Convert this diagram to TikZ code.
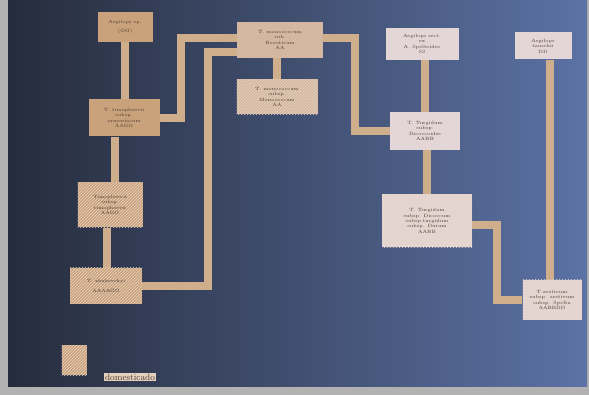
\documentclass[tikz,border=0pt]{standalone}
\usetikzlibrary{patterns}
\pgfdeclarelayer{background}
\pgfsetlayers{background,main}
\definecolor{boxtan}{HTML}{C9A27C}
\definecolor{boxpale}{HTML}{E4D6D6}
\definecolor{linktan}{HTML}{CFAE8C}
\definecolor{inkbrown}{HTML}{4A3A30}
\tikzset{
  taxon/.style={draw=none,fill=boxtan,align=center,text=inkbrown,inner sep=1pt,
    font=\fontsize{4.6}{5.4}\selectfont},
  domest/.style={postaction={pattern=north east lines,pattern color=white!55!boxtan}},
  link/.style={draw=linktan,line width=8pt,line join=miter}
}
\begin{document}
\begin{tikzpicture}[x=1pt,y=-1pt]
        \useasboundingbox (0,0) rectangle (589,395);

        \node [taxon, minimum width=55, minimum height=30] (gg) at (125,27) {Aegilops sp.\\[3pt](GG)};
        \node [taxon, minimum width=71, minimum height=37] (arm) at (124,118) {T. timopheevii\\subsp.\\armeniacum\\AAGG};
        \node [taxon, domest, minimum width=65, minimum height=45] (tim) at (110,205) {Timopheevii\\subsp.\\timopheevii\\AAGG};
        \node [taxon, domest, minimum width=72, minimum height=36] (zhu) at (106,286) {T. zhukovskyi\\[4pt]AAAAGG};
        \node [taxon, fill=boxtan!60!boxpale, minimum width=86, minimum height=36] (boe) at (280,40) {T. monococcum\\sub.\\Boeoticum\\AA};
        \node [taxon, domest, fill=boxtan!60!boxpale, minimum width=81, minimum height=35] (mon) at (277,97) {T. monococcum\\subsp.\\Monococcum\\AA};
        \node [taxon, fill=boxpale, minimum width=73, minimum height=32] (sit) at (422,44) {Aegilops sect.\\ex\\A. Speltoides\\SS};
        \node [taxon, fill=boxpale, minimum width=70, minimum height=38] (dic) at (425,131) {T. Turgidum\\subsp.\\Dicoccoides\\AABB};
        \node [taxon, domest, fill=boxpale, minimum width=90, minimum height=53] (dur) at (427,221) {T. Turgidum\\subsp. Dicoccum\\subsp.turgidum\\subsp. Durum\\AABB};
        \node [taxon, fill=boxpale, minimum width=57, minimum height=27] (tau) at (543,46) {Aegilops\\tauschii\\DD};
        \node [taxon, domest, fill=boxpale, minimum width=59, minimum height=40] (aes) at (552,300) {T.aestivum\\subsp. aestivum\\subsp. Spelta\\AABBDD};

        % legend
        \node [taxon, domest, minimum width=25, minimum height=30] (key) at (74,360) {};
        \node [taxon, fill=boxtan!50!white, inner sep=0.8pt, font=\fontsize{9}{10}\selectfont] (keytext) at (130,377) {domesticado};

        \coordinate (k1) at (181,38);
        \coordinate (k2) at (208,52);
        \coordinate (k3) at (355,38);
        \coordinate (k4) at (497,225);

        \begin{pgfonlayer}{background}
        % photo frame and poster
        \fill [gray!60] (0,0) rectangle (589,395);
        \shade [left color={rgb,255:red,38;green,44;blue,60}, right color={rgb,255:red,92;green,114;blue,165}]
            (8,0) rectangle (587,386);
        \draw [link] (gg.south) -- (arm.north -| gg.south);
        \draw [link] (arm.south -| 115,0) -- (tim.north -| 115,0);
        \draw [link] (tim.south -| 107,0) -- (zhu.north -| 107,0);
        \draw [link] (arm.east) -| (k1) -- (boe.west |- k1);
        \draw [link] (zhu.east) -| (k2) -- (boe.west |- k2);
        \draw [link] (boe.south -| 277,0) -- (mon.north);
        \draw [link] (boe.east |- k3) -- (k3) |- (dic.west);
        \draw [link] (sit.south -| 425,0) -- (dic.north);
        \draw [link] (dic.south -| 427,0) -- (dur.north);
        \draw [link] (dur.east |- k4) -- (k4) |- (aes.west);
        \draw [link] (tau.south -| 550,0) -- (aes.north -| 550,0);
        \end{pgfonlayer}

    \end{tikzpicture}
\end{document}
